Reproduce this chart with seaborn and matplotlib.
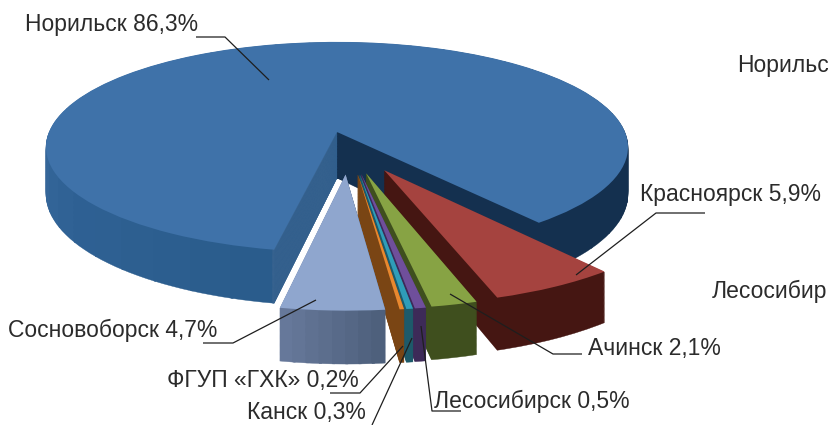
import matplotlib
matplotlib.use('Agg')
import matplotlib.pyplot as plt
import numpy as np
import seaborn as sns
from matplotlib.patches import Wedge
from matplotlib.transforms import Transform

sns.set_theme(style='white')
plt.rcParams['font.family'] = ['Liberation Sans', 'DejaVu Sans']

# доли городов, против часовой стрелки от правого края Норильска
cities = ['Норильск', 'Сосновоборск', 'ФГУП «ГХК»', 'Канск', 'Лесосибирск', 'Ачинск', 'Красноярск']
shares = [86.3, 4.7, 0.2, 0.3, 0.5, 2.1, 5.9]
explode = [0, 0.41, 0.41, 0.41, 0.41, 0.41, 0.41]
# поправка положения вынесенных секторов
nudge_x = [0, 0.045, 0.022, 0.022, 0.017, 0, -0.036]
nudge_y = [0, 0.02, 0.02, 0.02, 0.02, 0.02, 0.01]

top_colors = ['#3f72a9', '#8fa6ce', '#e8882f', '#2f9db9', '#6f4f9b', '#87a344', '#a5433f']
wall_colors = [['#14304f', '#14304f', '#15324f', '#1b3a5c', '#2c5a88', '#3d6da0', '#2f6194', '#2a5c8c'],
               ['#66789a', '#4e607c'], ['#7a4514', '#7a4514'], ['#1d5a6a', '#1d5a6a'],
               ['#3d2a58', '#3d2a58'], ['#3f4f1e', '#3f4f1e'], ['#451612', '#451612']]
wall_bands = [40, 8, 1, 1, 1, 1, 1]
wall_height = [1, 0.93, 0.93, 0.93, 0.93, 0.93, 0.93]
inner_wall = '#3b6591'

# подписи: текст, x, базовая линия
label_text = ['Норильск 86,3%', 'Красноярск 5,9%', 'Сосновоборск 4,7%', 'ФГУП «ГХК» 0,2%',
              'Канск 0,3%', 'Лесосибирск 0,5%', 'Ачинск 2,1%', 'Норильс', 'Лесосибир']
label_x = [25, 640, 8, 167, 247, 434, 588, 737, 712]
label_y = [31, 201, 337, 387, 419, 408, 355, 72, 298]

# выноски
leaders = [[(196, 37), (225, 37), (269, 80)],
           [(705, 213), (656, 213), (576, 275)],
           [(582, 354), (553, 354), (450, 294)],
           [(461, 411), (432, 411), (421, 326)],
           [(412, 338), (372, 425)],
           [(330, 393), (360, 393), (403, 346)],
           [(203, 343), (233, 343), (316, 300)]]

CX, CY = 337, 132
A, B, K = 288, 103, 0.143
DEPTH = 46
LAYERS = 60


class Perspective(Transform):
    input_dims = 2
    output_dims = 2
    is_affine = False

    def __init__(self, z=0.0):
        super().__init__()
        self.z = z

    def transform_non_affine(self, values):
        values = np.asarray(values)
        w = 1 / (1 + K * values[:, 1])
        return np.column_stack([CX + A * values[:, 0] * w,
                                CY - B * values[:, 1] * w + DEPTH * self.z * w])


fig = plt.figure(figsize=(8.29, 4.25), dpi=100)
ax = fig.add_axes([0, 0, 1, 1])
wedges, _ = ax.pie(shares, explode=explode, colors=top_colors, startangle=-51.5,
                   wedgeprops={'linewidth': 0})
ax.set_aspect('auto')
ax.set_xlim(0, 829)
ax.set_ylim(425, 0)
ax.axis('off')

# порядок от дальнего к ближнему
draw_order = [0, 6, 5, 4, 3, 2, 1]
zo = 1
for i in draw_order:
    wedge = wedges[i]
    wedge.set_center((wedge.center[0] + nudge_x[i], wedge.center[1] + nudge_y[i]))
    n = wall_bands[i]
    palette = sns.blend_palette(wall_colors[i], n) if n > 1 else [wall_colors[i][0]]
    edges = np.linspace(wedge.theta1, wedge.theta2, n + 1)
    bands = [(edges[j], edges[j + 1], palette[j]) for j in range(n)]
    if i == 0:
        bands.append((wedge.theta2 - 0.3, wedge.theta2, inner_wall))
    for z in np.linspace(wall_height[i], 0, LAYERS, endpoint=False):
        tr = Perspective(z) + ax.transData
        for t1, t2, col in bands:
            p = Wedge(wedge.center, wedge.r, t1, min(t2 + 0.4, wedge.theta2), fc=col, ec=col, lw=0.3,
                      transform=tr, zorder=zo, clip_on=False)
            ax.add_patch(p)
    zo += 1
    wedge.set_transform(Perspective(0) + ax.transData)
    wedge.set_zorder(zo)
    wedge.set_clip_on(False)
    zo += 1

for pts in leaders:
    xs, ys = zip(*pts)
    ax.plot(xs, ys, color='#1e1e1e', lw=0.9, zorder=zo, solid_capstyle='butt')

for t, x, y in zip(label_text, label_x, label_y):
    ax.text(x, y, t, fontsize=16.5, color='#2b2b2b', va='baseline', ha='left', zorder=zo + 1)

fig.savefig('out.png', dpi=100)
